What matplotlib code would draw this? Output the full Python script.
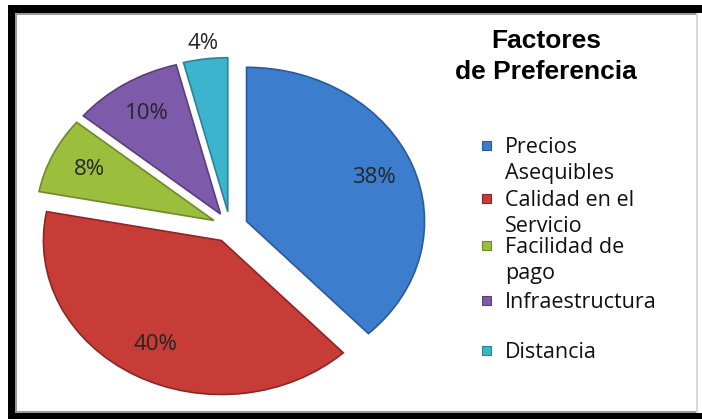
import matplotlib
matplotlib.use("Agg")
import matplotlib.pyplot as plt
from matplotlib.patches import Rectangle
import numpy as np

# ---- data ----
categories = ["Precios\nAsequibles", "Calidad en el\nServicio", "Facilidad de\npago",
              "Infraestructura", "Distancia"]
values = [38, 40, 8, 10, 4]
colors = ["#3D7DCD", "#C83C37", "#9BBE3C", "#7D5AAA", "#3CB4CD"]
edge_colors = ["#2A5A9A", "#8E2522", "#6E8A2A", "#583F7A", "#2A8396"]
title = "Factores\nde Preferencia"

W, H = 702, 419
DPI = 100
fig = plt.figure(figsize=(W / DPI, H / DPI), dpi=DPI)
fig.patch.set_facecolor("white")

# pie geometry in pixels (center, radii) -> axes limits (elliptical look)
cx, cy, rx, ry = 230, 227, 178, 154
ax = fig.add_axes([0, 0, 1, 1])
wedges, texts, autotexts = ax.pie(
    values, colors=colors, startangle=90, counterclock=False,
    explode=[0.1] * len(values), autopct="%d%%", pctdistance=0.77,
    wedgeprops=dict(linewidth=1.2),
    textprops=dict(fontfamily="Open Sans", fontsize=16, color="#262626"))
for w, ec in zip(wedges, edge_colors):
    w.set_edgecolor(ec)
ax.set_aspect("auto")
ax.set_xlim(-cx / rx, (W - cx) / rx)
ax.set_ylim(-(H - cy) / ry, cy / ry)
ax.axis("off")

# small slice label placed outside its wedge
w = wedges[-1]
mid = np.deg2rad((w.theta1 + w.theta2) / 2)
d = 1.1
autotexts[-1].set_position((w.center[0] + d * np.cos(mid), w.center[1] + d * np.sin(mid)))

# title
fig.text(546 / W, 1 - 29 / H, title, ha="center", va="top", fontsize=19,
         fontweight="bold", family="Liberation Sans", linespacing=1.38, color="black")

# legend (manual, Excel-like wrapping)
row_y = [137, 190, 237, 292, 342]
for lab, col, ec, y in zip(categories, colors, edge_colors, row_y):
    fig.patches.append(Rectangle((482 / W, 1 - (y + 13) / H), 9 / W, 9 / H,
                                 transform=fig.transFigure, facecolor=col,
                                 edgecolor=ec, linewidth=0.8))
    fig.text(505 / W, 1 - y / H, lab, ha="left", va="top", fontsize=15.5,
             family="Open Sans", linespacing=1.3, color="#111111")

# frame: thick black border (left, top, bottom) + thin grey inner lines
def bar(x0, y0, x1, y1, color):
    fig.patches.append(Rectangle((x0 / W, 1 - y1 / H), (x1 - x0) / W, (y1 - y0) / H,
                                 transform=fig.transFigure, facecolor=color,
                                 edgecolor="none", zorder=10))

bar(8, 5, W, 13, "black")
bar(8, 5, 15, H, "black")
bar(8, 413, W, H, "black")
bar(15, 13, 17, 411, "#9a9a9a")
bar(15, 13, 697, 15, "#9a9a9a")
bar(15, 411, 697, 413, "#9a9a9a")
bar(696, 13, 698, 413, "#d8d8d8")

fig.savefig("out.png", dpi=DPI)
